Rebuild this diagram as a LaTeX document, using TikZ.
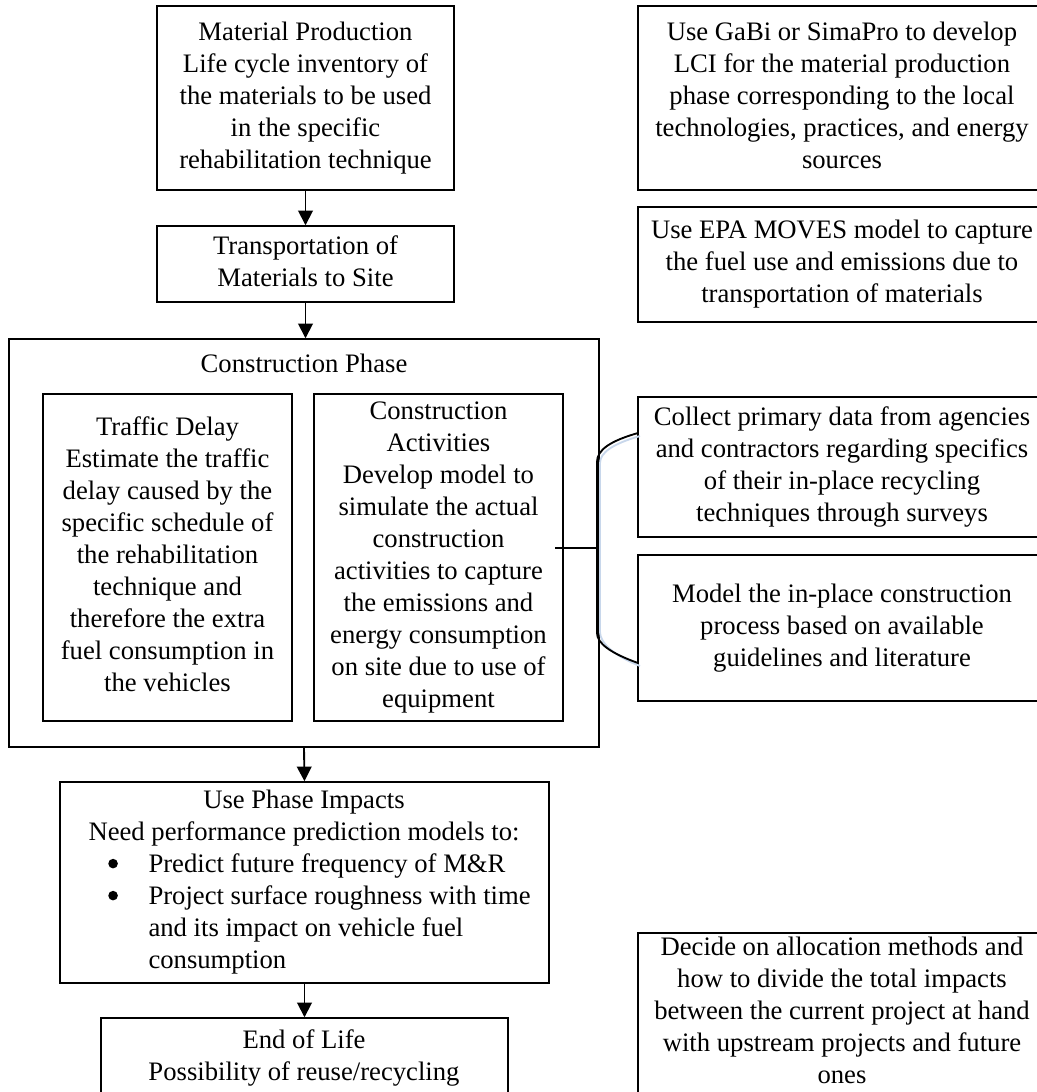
\documentclass[tikz,border=0pt]{standalone}
\usepackage{fontspec}
\setmainfont{Liberation Serif}
\usetikzlibrary{arrows.meta}
\definecolor{shadowblue}{RGB}{200,215,235}
\tikzset{
  x=0.75pt,y=-0.75pt,
  boxline/.style={draw,line width=1.1pt},
  txt/.style={font=\fontsize{20}{24}\selectfont, align=center, inner sep=0pt},
  flow/.style={line width=1.4pt,-{Triangle[length=11pt,width=11pt]}},
  braceline/.style={line width=1.4pt},
  braceshadow/.style={line width=1.4pt,draw=shadowblue},
}
\newcommand\pbx[6]{\node[boxline,txt,minimum width={(#4-#2)*0.75pt},minimum height={(#5-#3)*0.75pt}] (#1) at ({(#2+#4)/2},{(#3+#5)/2}) {#6};}
\newcommand\bigbul{\tikz[baseline=-6.6pt]\fill (0pt,0pt) circle[radius=3.6pt];}
\begin{document}
\begin{tikzpicture}
\useasboundingbox (0,0) rectangle (1037,1092);
\clip (0,0) rectangle (1037,1092);
% left column
\pbx{mp}{157}{6}{454}{190}{\strut Material Production\\Life cycle inventory of\\the materials to be used\\in the specific\\rehabilitation technique\strut}
\pbx{tr}{157}{226}{454}{302}{\strut Transportation of\\Materials to Site\strut}
\pbx{cp}{9}{339}{599}{747}{}
\node[txt] (cpt) at (304,366) {\strut Construction Phase\strut};
\pbx{td}{43}{394}{292}{721}{\strut Traffic Delay\\Estimate the traffic\\delay caused by the\\specific schedule of\\the rehabilitation\\technique and\\therefore the extra\\fuel consumption in\\the vehicles\strut}
\pbx{ca}{314}{394}{563}{721}{\strut Construction\\Activities\\Develop model to\\simulate the actual\\construction\\activities to capture\\the emissions and\\energy consumption\\on site due to use of\\equipment\strut}
\pbx{up}{60}{782}{549}{983}{}
\node[txt] (upt) at (304,818) {\strut Use Phase Impacts\\Need performance prediction models to:\strut};
\node[txt,anchor=west] (upl) at (108,914) {\begin{tabular}{@{}l@{\hspace{23pt}}l@{}}\bigbul & Predict future frequency of M\&R\\ \bigbul & Project surface roughness with time\\ & and its impact on vehicle fuel\\ & consumption\end{tabular}};
\pbx{eol}{101}{1018}{508}{1130}{}
\node[txt] (eolt) at (304,1058) {\strut End of Life\\Possibility of reuse/recycling\strut};
% right column
\pbx{r1}{638}{6}{1046}{190}{\strut Use GaBi or SimaPro to develop\\LCI for the material production\\phase corresponding to the local\\technologies, practices, and energy\\sources\strut}
\pbx{r2}{638}{207}{1046}{322}{\strut Use EPA MOVES model to capture\\the fuel use and emissions due to\\transportation of materials\strut}
\pbx{r3}{638}{397}{1046}{537}{\strut Collect primary data from agencies\\and contractors regarding specifics\\of their in-place recycling\\techniques through surveys\strut}
\pbx{r4}{638}{555}{1046}{701}{\strut Model the in-place construction\\process based on available\\guidelines and literature\strut}
\pbx{r5}{638}{933}{1046}{1130}{}
\node[txt] (r5t) at (842,1013) {\strut Decide on allocation methods and\\how to divide the total impacts\\between the current project at hand\\with upstream projects and future\\ones\strut};
% flow arrows
\draw[flow] (mp.south) -- (tr.north);
\draw[flow] (tr.south) -- (cp.north -| tr.south);
\draw[flow] (cp.south) -- (up.north);
\draw[flow] (up.south) -- (eol.north);
% brace linking construction activities to right boxes
\coordinate (cs) at (555,548);
\coordinate (bm) at (597,548);
\coordinate (btop) at (638,433);
\coordinate (bbot) at (638,663);
\draw[braceshadow] (640,436) .. controls (612,444) and (600,453) .. (600,463) -- (600,632) .. controls (600,642) and (612,655) .. (640,666);
\draw[braceline] (btop) .. controls (610,441) and (597,450) .. (597,462) -- (597,633) .. controls (597,643) and (610,653) .. (bbot);
\draw[braceline] (cs) -- (bm);
\end{tikzpicture}
\end{document}
